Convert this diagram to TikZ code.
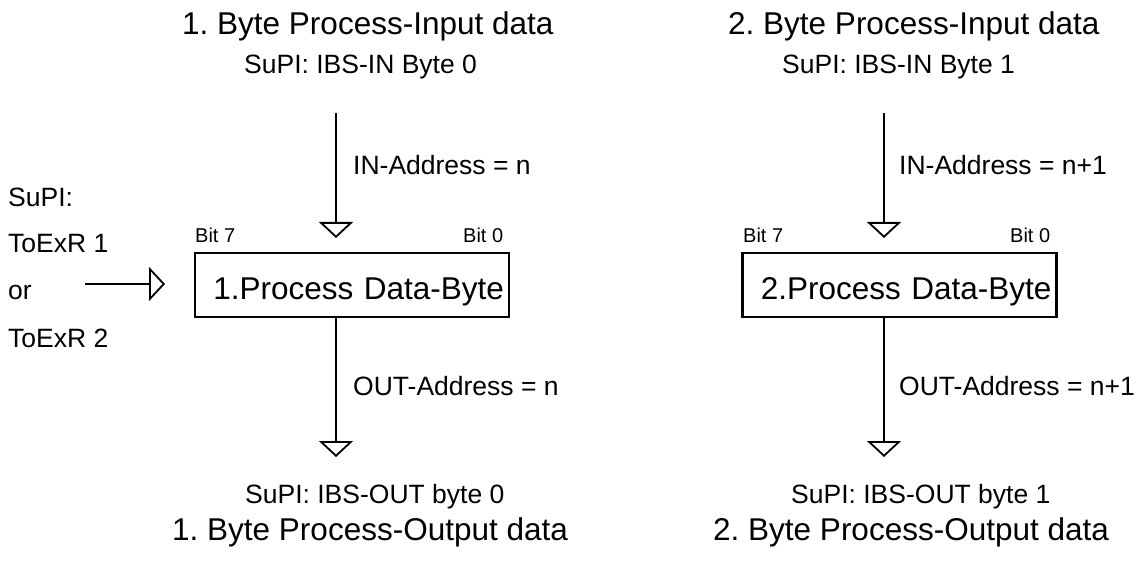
\documentclass[tikz,border=0pt]{standalone}
\usepackage{fontspec}
\setmainfont{Liberation Sans}
\frenchspacing
\usetikzlibrary{arrows.meta, positioning}

\begin{document}
\begin{tikzpicture}[x=1pt, y=-1pt,
		bigtxt/.style={font=\fontsize{31.5}{36}\selectfont, anchor=base west, inner sep=0pt},
		midtxt/.style={font=\fontsize{26.5}{30}\selectfont, anchor=base west, inner sep=0pt},
		bittxt/.style={font=\fontsize{20}{24}\selectfont, anchor=base west, inner sep=0pt},
		flow/.style={line width=1.8pt, -{Triangle[open, length=16pt, width=34pt]}},
		bytebox/.style={draw, line width=2.2pt, minimum width=314pt, minimum height=64pt,
			inner xsep=5pt, text width=304pt, align=right, text height=30pt, text depth=0pt,
			font=\fontsize{31.5}{36}\selectfont}]
		\useasboundingbox (0,0) rectangle (1143,561);
		% Process data bytes
		\node[bytebox] (box1) at (352,285) {1.Process Data-Byte};
		\node[bytebox] (box2) at (899.5,285) {2.Process Data-Byte};
		% Bit order
		\node[bittxt] (bit7a) at (195,243) {Bit 7};
		\node[bittxt] (bit0a) at (463,243) {Bit 0};
		\node[bittxt] (bit7b) at (743,243) {Bit 7};
		\node[bittxt] (bit0b) at (1010,243) {Bit 0};
		% First byte
		\node[bigtxt] (title1in) at (182,35) {1. Byte Process-Input data};
		\node[midtxt] (supi1in) at (244,74) {SuPI: IBS-IN Byte 0};
		\node[midtxt] (addr1in) at (353,175) {IN-Address = n};
		\node[midtxt] (addr1out) at (353,395) {OUT-Address = n};
		\node[midtxt] (supi1out) at (245,503) {SuPI: IBS-OUT byte 0};
		\node[bigtxt] (title1out) at (172,540) {1. Byte Process-Output data};
		% Second byte
		\node[bigtxt] (title2in) at (728,35) {2. Byte Process-Input data};
		\node[midtxt] (supi2in) at (782,74) {SuPI: IBS-IN Byte 1};
		\node[midtxt] (addr2in) at (899,175) {IN-Address = n+1};
		\node[midtxt] (addr2out) at (899,395) {OUT-Address = n+1};
		\node[midtxt] (supi2out) at (791,503) {SuPI: IBS-OUT byte 1};
		\node[bigtxt] (title2out) at (713,540) {2. Byte Process-Output data};
		% Register select
		\node[midtxt] (regsupi) at (8,207) {SuPI:};
		\node[midtxt] (regone) at (8,253) {ToExR 1};
		\node[midtxt] (regor) at (8,300) {or};
		\node[midtxt] (regtwo) at (8,347) {ToExR 2};
		% Arrows
		\coordinate (in1) at (336,113);
		\coordinate (in1tip) at (336,238);
		\coordinate (out1tip) at (336,457);
		\coordinate (in2) at (884,113);
		\coordinate (in2tip) at (884,238);
		\coordinate (out2tip) at (884,457);
		\coordinate (reg) at (85,284);
		\coordinate (regtip) at (165,284);
		\draw[flow] (in1) -- (in1tip);
		\draw[flow] (box1.south -| out1tip) -- (out1tip);
		\draw[flow] (in2) -- (in2tip);
		\draw[flow] (box2.south -| out2tip) -- (out2tip);
		\draw[flow] (reg) -- (regtip);
	\end{tikzpicture}
\end{document}
